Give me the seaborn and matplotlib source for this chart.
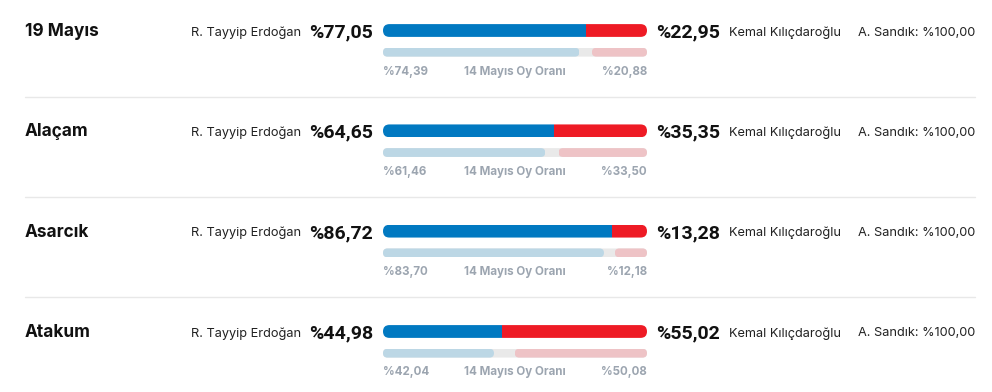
import matplotlib
matplotlib.use("Agg")
import matplotlib.pyplot as plt
import seaborn as sns
from matplotlib.patches import FancyBboxPatch

# ---- data ----
districts = ["19 Mayıs", "Alaçam", "Asarcık", "Atakum"]
erdogan_now = [77.05, 64.65, 86.72, 44.98]
kilicdaroglu_now = [22.95, 35.35, 13.28, 55.02]
erdogan_may14 = [74.39, 61.46, 83.70, 42.04]
kilicdaroglu_may14 = [20.88, 33.50, 12.18, 50.08]
ballot_opened = [100.00, 100.00, 100.00, 100.00]
name_left = "R. Tayyip Erdoğan"
name_right = "Kemal Kılıçdaroğlu"
sub_label = "14 Mayıs Oy Oranı"

def fmt(v):
    return "%" + f"{v:.2f}".replace(".", ",")

sns.set_theme(style="white")
plt.rcParams["font.family"] = ["Inter", "DejaVu Sans"]
BIG = ["Roboto", "DejaVu Sans"]

W, H = 992, 392
fig = plt.figure(figsize=(W / 100, H / 100), dpi=100)
fig.patch.set_facecolor("white")

# overlay axes in pixel coordinates for text and separators
ov = fig.add_axes([0, 0, 1, 1])
ov.set_xlim(0, W)
ov.set_ylim(H, 0)
ov.axis("off")

BLUE = "#0179c1"
RED = "#ee1b25"
LBLUE = "#bcd7e5"
LRED = "#eec3c6"
GRAYBG = "#e9e9e9"
LABEL_GRAY = "#9ca5b0"

BX0, BX1 = 383, 647
step = 100.33

for i, d in enumerate(districts):
    y0 = i * step
    # separators
    if i > 0:
        ov.plot([25, 975], [y0 - 3.7, y0 - 3.7], color="#e8e8e8", lw=1.0)
    # texts
    ov.text(25, y0 + 31.5, d, fontsize=12.4, fontweight="bold", color="#111111",
            ha="left", va="center")
    ov.text(301, y0 + 32.5, name_left, fontsize=9.2, color="#222222",
            ha="right", va="center")
    ov.text(373, y0 + 32.5, fmt(erdogan_now[i]), fontsize=14, fontweight="bold",
            family=BIG, color="#111111", ha="right", va="center")
    ov.text(656, y0 + 32.5, fmt(kilicdaroglu_now[i]), fontsize=14, fontweight="bold",
            family=BIG, color="#111111", ha="left", va="center")
    ov.text(729, y0 + 32.5, name_right, fontsize=9.2, color="#222222",
            ha="left", va="center")
    ov.text(975, y0 + 32.5, "A. Sandık: " + fmt(ballot_opened[i]), fontsize=9.2,
            color="#222222", ha="right", va="center")
    ov.text(BX0, y0 + 71.5, fmt(erdogan_may14[i]), fontsize=8.3, fontweight="bold",
            color=LABEL_GRAY, ha="left", va="center")
    ov.text((BX0 + BX1) / 2, y0 + 71.5, sub_label, fontsize=8.3, fontweight="bold",
            color=LABEL_GRAY, ha="center", va="center")
    ov.text(BX1, y0 + 71.5, fmt(kilicdaroglu_may14[i]), fontsize=8.3, fontweight="bold",
            color=LABEL_GRAY, ha="right", va="center")

    # bar axes: x 0..100 maps onto BX0..BX1, y in pixel offsets
    top, bot = y0 + 20, y0 + 60
    ax = fig.add_axes([BX0 / W, 1 - bot / H, (BX1 - BX0) / W, (bot - top) / H])
    ax.set_xlim(0, 100)
    ax.set_ylim(40, 0)
    ax.axis("off")

    # main bar (center 10.5, height 12.8)
    clip1 = FancyBboxPatch((BX0, H - (y0 + 36.9)), BX1 - BX0, 12.8,
                           boxstyle="round,pad=0,rounding_size=6.4",
                           transform=None, facecolor="none", edgecolor="none")
    fig.add_artist(clip1)
    clip1.set_visible(False)
    b1 = ax.barh([10.5], [kilicdaroglu_now[i]], left=[100 - kilicdaroglu_now[i]],
                 height=12.8, color=RED, linewidth=0)
    b2 = ax.barh([10.5], [erdogan_now[i]], left=[0], height=12.8, color=BLUE, linewidth=0)
    for p in list(b1) + list(b2):
        p.set_clip_path(clip1)

    # previous-round bar (center 32.2, height 8.8), each segment rounded
    bg = ax.barh([32.2], [100], left=[0], height=8.8, color=GRAYBG, linewidth=0)
    segs = [
        (0, erdogan_may14[i], LBLUE),
        (100 - kilicdaroglu_may14[i], kilicdaroglu_may14[i], LRED),
        (0, 100, None),
    ]
    for left, width, col in segs:
        x0p = BX0 + left / 100 * (BX1 - BX0)
        wp = width / 100 * (BX1 - BX0)
        clip = FancyBboxPatch((x0p, H - (y0 + 56.6)), wp, 8.8,
                              boxstyle="round,pad=0,rounding_size=4.4",
                              transform=None, facecolor="none", edgecolor="none")
        fig.add_artist(clip)
        clip.set_visible(False)
        if col is None:
            for p in bg:
                p.set_clip_path(clip)
        else:
            bb = ax.barh([32.2], [width], left=[left], height=8.8, color=col, linewidth=0)
            for p in bb:
                p.set_clip_path(clip)

fig.savefig("out.png", dpi=100, facecolor="white")
